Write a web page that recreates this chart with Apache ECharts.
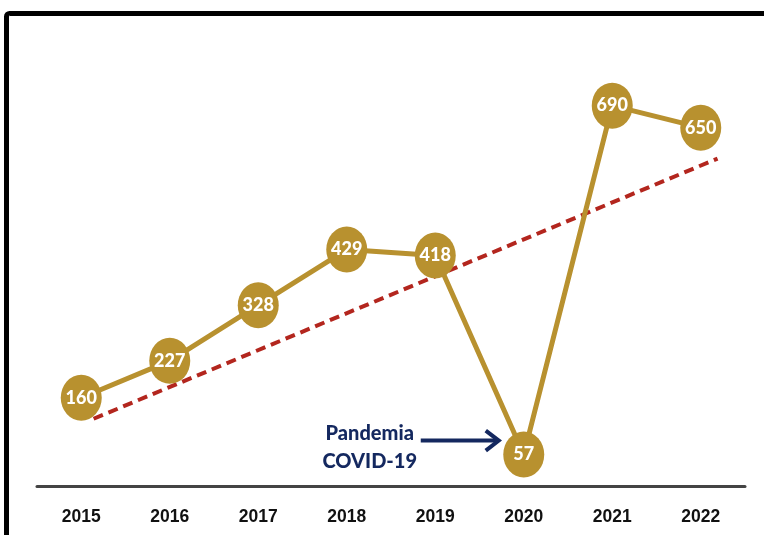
<!DOCTYPE html>
<html>
<head>
<meta charset="utf-8">
<script src="https://cdn.jsdelivr.net/npm/echarts@6/dist/echarts.min.js"></script>
<style>html,body{margin:0;padding:0;background:#fff}#c{width:764px;height:535px}</style>
</head>
<body>
<div id="c"></div>
<script>
const years = ['2015','2016','2017','2018','2019','2020','2021','2022'];
const values = [160, 227, 328, 429, 418, 57, 690, 650];
// trend line: start/end positions (category index) and values
const trendX = [0.14, 7.19];
const trendY = [122, 594];
const noteLines = ['Pandemia', 'COVID-19'];
const noteYear = '2020';

const gold = '#b8912f';
const chart = echarts.init(document.getElementById('c'));
chart.setOption({
  animation: false,
  grid: { left: 37, right: 19, top: 45, bottom: 49 },
  xAxis: [{
    type: 'category', data: years, boundaryGap: true,
    axisLine: { lineStyle: { color: '#444', width: 3 } },
    axisTick: { show: false },
    axisLabel: { color: '#111', fontWeight: 'bold', fontSize: 17.5, fontFamily: 'Liberation Sans', margin: 22 }
  }, {
    type: 'value', min: -0.5, max: 7.5, show: false
  }],
  yAxis: { type: 'value', min: 0, max: 800, show: false, splitLine: { show: false } },
  series: [{
    type: 'line', xAxisIndex: 1,
    data: trendX.map((x, i) => [x, trendY[i]]),
    symbol: 'none',
    lineStyle: { color: '#b3261e', width: 4, type: [10, 6] },
    z: 1
  }, {
    type: 'line', data: values,
    symbol: 'circle', symbolSize: [41, 46],
    itemStyle: { color: gold },
    lineStyle: { color: gold, width: 5 },
    label: { show: true, position: 'inside', color: '#fff', fontWeight: 900, fontSize: 18, fontFamily: 'Lato' },
    z: 3
  }]
});

const p = chart.convertToPixel({ xAxisIndex: 0, yAxisIndex: 0 }, [noteYear, values[years.indexOf(noteYear)]]);
const navy = '#14285f';
const ax = p[0] - 25, ay = p[1] - 14;
chart.setOption({
  graphic: [
    { type: 'rect', shape: { x: 6.5, y: 13.5, width: 900, height: 700, r: 3 }, style: { fill: 'none', stroke: '#000', lineWidth: 5 }, silent: true },
    { type: 'line', shape: { x1: ax - 78, y1: ay, x2: ax, y2: ay }, style: { stroke: navy, lineWidth: 4 } },
    { type: 'polyline', shape: { points: [[ax - 13, ay - 10], [ax, ay], [ax - 13, ay + 10]] }, style: { stroke: navy, lineWidth: 4, fill: 'none' } },
    { type: 'text', style: { x: ax - 129, y: ay - 7, text: noteLines[0], fill: navy, font: '900 20px Lato', align: 'center', verticalAlign: 'middle' } },
    { type: 'text', style: { x: ax - 129, y: ay + 21, text: noteLines[1], fill: navy, font: '900 20px Lato', align: 'center', verticalAlign: 'middle' } }
  ]
});
</script>
</body>
</html>
